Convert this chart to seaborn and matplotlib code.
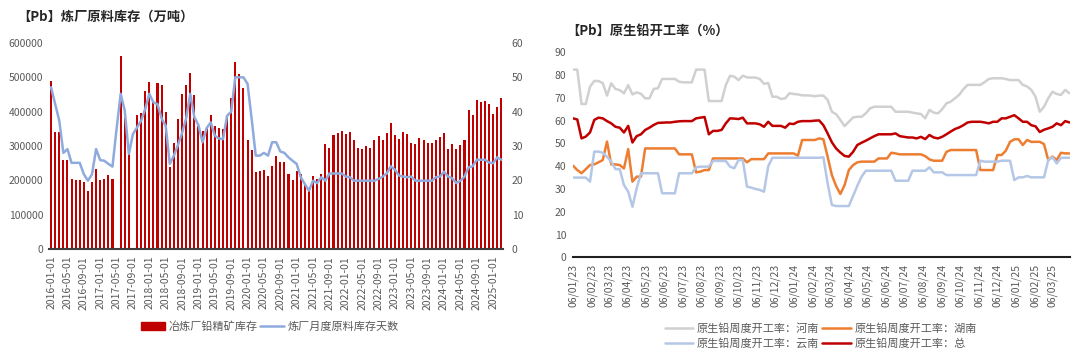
import numpy as np
import pandas as pd
import matplotlib
matplotlib.use("Agg")
import matplotlib.pyplot as plt
from matplotlib.patches import Patch
from matplotlib.lines import Line2D
import seaborn as sns

sns.set_theme(style="white")
plt.rcParams["font.family"] = ["Noto Sans CJK SC", "DejaVu Sans"]

# 左图：炼厂原料库存（月度）
months = pd.date_range("2016-01-01", "2025-03-01", freq="MS").strftime("%Y-%m-%d").tolist()
stock = [
    488000, 341000, 341000, 259000, 259000, 205000, 200000, 200000, 195000, 170000, 195000, 234000,
    202000, 204000, 216000, 204000, np.nan, 563000, 381000, 276000, np.nan, 390000, 395000, 459000,
    486000, 427000, 483000, 479000, 399000, 238000, 310000, 378000, 451000, 479000, 513000, 449000,
    357000, 345000, 356000, 391000, 358000, 352000, 350000, 388000, 439000, 544000, 510000, 468000,
    318000, 289000, 225000, 228000, 230000, 213000, 243000, 272000, 254000, 252000, 218000, 200000,
    226000, 218000, 186000, 168000, 212000, 204000, 218000, 305000, 294000, 331000, 338000, 344000,
    336000, 341000, 318000, 295000, 291000, 300000, 294000, 318000, 328000, 318000, 338000, 367000,
    332000, 320000, 341000, 335000, 310000, 306000, 324000, 318000, 308000, 310000, 318000, 327000,
    339000, 291000, 307000, 292000, 302000, 318000, 405000, 391000, 435000, 427000, 431000, 423000,
    394000, 413000, 439000,
]
days = [
    47.1, 42.2, 37.4, 28.0, 29.1, 25.1, 25.1, 25.1, 21.8, 19.9, 21.8, 29.1,
    25.9, 25.7, 24.8, 24.0, 35.0, 45.2, 40.3, 27.7, 33.5, 35.4, 37.4, 40.8,
    45.2, 42.7, 42.2, 38.0, 35.9, 24.8, 27.2, 30.3, 33.8, 38.1, 45.2, 38.4,
    36.1, 31.1, 35.2, 36.9, 33.0, 32.2, 32.0, 38.8, 40.0, 50.0, 50.0, 50.0,
    48.1, 37.9, 27.2, 27.2, 28.0, 27.2, 31.1, 31.1, 28.4, 28.0, 26.7, 25.7,
    24.8, 20.9, 18.9, 17.0, 19.9, 19.2, 20.9, 19.9, 22.0, 22.0, 22.0, 22.0,
    21.1, 20.9, 19.9, 19.9, 19.9, 19.9, 19.9, 19.9, 20.4, 21.1, 22.0, 24.1,
    23.1, 21.4, 21.1, 20.9, 21.1, 19.9, 19.9, 19.9, 19.9, 19.9, 20.9, 21.1,
    22.5, 21.1, 20.6, 19.2, 19.9, 21.1, 23.8, 24.1, 26.0, 26.0, 26.0, 25.2,
    25.0, 26.7, 26.0,
]

# 右图：原生铅周度开工率
weeks = pd.date_range("2023-01-06", periods=118, freq="7D")
henan = [
    82.4, 82.4, 67.3, 67.3, 74.9, 77.4, 77.4, 76.5, 71.0, 76.4, 73.9, 73.4, 72.0, 75.6, 71.5, 72.4,
    71.8, 69.8, 69.8, 73.9, 74.2, 78.3, 78.3, 78.3, 78.3, 77.1, 76.8, 76.8, 76.8, 82.4, 82.4, 82.4,
    68.6, 68.6, 68.6, 68.6, 75.6, 79.7, 79.3, 77.8, 79.7, 79.0, 78.9, 78.9, 78.3, 76.2, 76.5, 70.5,
    70.5, 69.5, 69.8, 72.0, 71.7, 71.5, 71.1, 71.1, 71.0, 70.7, 71.0,
    71.0, 69.1, 63.9, 62.8, 60.3, 57.6, 59.5, 61.4, 61.7, 61.7, 63.2, 65.4, 66.1, 66.1, 66.1, 66.1,
    66.1, 63.9, 63.9, 63.9, 63.9, 63.5, 63.2, 62.9, 61.0, 64.7, 63.5, 63.2, 65.0, 67.6, 68.3, 69.8,
    71.3, 73.8, 75.7, 75.7, 75.7, 75.7, 76.9, 78.3, 78.6, 78.6, 78.6, 78.3, 77.8, 77.8, 77.8, 75.7,
    75.0, 73.5, 70.5, 63.9, 66.1, 69.8, 72.7, 71.7, 71.3, 73.5, 72.0,
]
hunan = [
    40.2, 38.3, 36.9, 38.7, 40.5, 40.8, 41.7, 42.7, 50.8, 40.8, 40.8, 40.5, 39.0, 47.5, 33.2, 35.4,
    35.4, 47.8, 47.8, 47.8, 47.8, 47.8, 47.8, 47.8, 47.8, 45.2, 45.2, 45.2, 45.2, 37.3, 37.6, 38.3,
    38.3, 43.4, 43.4, 43.4, 43.4, 43.4, 43.4, 43.4, 43.4, 41.7, 43.1, 43.1, 43.1, 43.1, 45.6, 45.6,
    45.6, 45.6, 45.6, 45.6, 45.6, 44.6, 51.5, 51.5, 51.5, 51.5, 52.2,
    51.8, 44.2, 36.1, 31.3, 27.8, 31.7, 38.3, 40.5, 41.7, 42.0, 42.0, 42.0, 42.0, 43.4, 43.4, 43.4,
    45.9, 45.6, 45.2, 45.2, 45.2, 45.2, 45.2, 45.2, 44.4, 43.0, 42.4, 42.4, 42.4, 46.3, 47.1, 47.1,
    47.1, 47.1, 47.1, 47.1, 47.1, 38.3, 38.3, 38.3, 38.3, 44.9, 44.9, 46.8, 50.7, 51.8, 51.8, 49.3,
    51.5, 50.7, 50.7, 50.7, 49.7, 42.7, 44.2, 42.7, 45.9, 45.6, 45.6,
]
yunnan = [
    35.0, 35.0, 35.0, 35.0, 33.2, 46.4, 46.4, 45.9, 44.2, 42.0, 38.7, 38.7, 31.7, 28.8, 22.2, 30.3,
    36.9, 36.9, 36.9, 36.9, 36.9, 28.1, 28.1, 28.1, 28.1, 36.9, 36.9, 36.9, 36.9, 39.5, 39.8, 39.8,
    39.8, 42.3, 42.3, 42.3, 42.3, 39.8, 39.1, 42.7, 42.7, 31.0, 30.6, 30.0, 29.6, 28.8, 40.0, 43.7,
    43.7, 43.7, 43.7, 43.7, 43.7, 43.7, 43.7, 43.7, 43.7, 43.7, 43.7,
    43.9, 32.5, 23.0, 22.5, 22.5, 22.5, 22.5, 26.9, 31.4, 35.4, 38.0, 38.0, 38.0, 38.0, 38.0, 38.0,
    38.0, 33.6, 33.6, 33.6, 33.6, 38.0, 38.0, 38.0, 38.0, 39.5, 37.3, 37.3, 37.3, 36.1, 36.1, 36.1,
    36.1, 36.1, 36.1, 36.1, 36.1, 42.4, 42.0, 42.0, 42.0, 42.0, 42.4, 42.4, 42.4, 33.9, 35.1, 35.1,
    35.7, 35.1, 35.1, 35.1, 35.1, 42.7, 43.9, 41.2, 43.7, 43.7, 43.7,
]
total = [
    61.0, 60.5, 52.2, 53.0, 54.8, 60.3, 61.3, 61.0, 59.8, 58.8, 57.3, 56.9, 54.8, 57.7, 50.4, 53.2,
    54.0, 55.9, 56.9, 58.1, 59.0, 59.1, 59.2, 59.2, 59.5, 59.7, 59.8, 59.8, 59.8, 61.0, 61.3, 61.6,
    54.0, 55.5, 55.5, 55.9, 58.8, 61.0, 60.9, 60.7, 61.3, 58.8, 58.8, 58.8, 58.4, 57.3, 59.5, 57.7,
    57.7, 57.7, 56.9, 58.7, 58.5, 59.5, 59.8, 59.8, 59.8, 60.0, 60.1,
    58.0, 54.4, 50.5, 47.8, 46.0, 44.5, 44.2, 46.3, 49.3, 50.3, 51.2, 52.2, 53.2, 54.0, 54.0, 54.0,
    54.0, 54.4, 53.2, 52.9, 52.6, 52.6, 52.2, 52.9, 51.9, 53.7, 52.6, 52.2, 52.9, 54.0, 55.2, 56.3,
    57.0, 58.0, 59.2, 59.5, 59.5, 59.5, 59.2, 58.8, 59.5, 59.5, 61.0, 61.0, 61.7, 62.4, 61.0, 59.5,
    59.5, 58.0, 57.5, 55.0, 56.0, 56.6, 57.3, 58.8, 58.0, 59.8, 59.2,
]

grey_txt = "#595959"
c_red = "#C00000"
c_blue_l = "#8FAADC"
c_grey = "#D0D0D0"
c_orange = "#ED7D31"
c_blue = "#B4C7E7"

fig = plt.figure(figsize=(10.8, 3.63), dpi=100)

# ---- 左图 ----
ax1 = fig.add_axes([0.0454, 0.314, 0.4207, 0.5675])
df_left = pd.DataFrame({"月份": months, "库存": stock})
sns.barplot(data=df_left, x="月份", y="库存", order=months, color=c_red,
            saturation=1, width=0.5, linewidth=0, edgecolor=c_red, ax=ax1)
ax2 = ax1.twinx()
sns.lineplot(x=np.arange(len(days)), y=days, color=c_blue_l, lw=1.8, ax=ax2)
ax1.set_xlim(-0.5, len(months) - 0.5)
ax1.set_ylim(0, 600000)
ax2.set_ylim(0, 60)
ax1.set_xticks(range(0, len(months), 4))
ax1.set_xticklabels(months[::4], rotation=90)
ax1.set_yticks(range(0, 600001, 100000))
ax1.set_yticklabels([str(v) for v in range(0, 600001, 100000)])
ax2.set_yticks(range(0, 61, 10))
ax1.set_xlabel("")
ax1.set_ylabel("")
ax2.set_ylabel("")
ax1.tick_params(axis="both", length=0, labelsize=7.5, labelcolor=grey_txt)
ax1.tick_params(axis="x", pad=5)
ax1.tick_params(axis="y", pad=4)
ax2.tick_params(axis="y", length=0, labelsize=7.5, labelcolor=grey_txt, pad=6)
for s in ["top", "left", "right"]:
    ax1.spines[s].set_visible(False)
for s in ax2.spines.values():
    s.set_visible(False)
ax1.spines["bottom"].set_color("#404040")
ax1.spines["bottom"].set_linewidth(1.5)

fig.text(0.016, 0.953, "【Pb】炼厂原料库存（万吨）", fontsize=9.5, weight="bold",
         color="#262626", va="center")
fig.legend(handles=[Patch(color=c_red), Line2D([], [], color=c_blue_l, lw=1.8)],
           labels=["冶炼厂铅精矿库存", "炼厂月度原料库存天数"],
           loc="center", bbox_to_anchor=(0.25, 0.1), ncol=2, frameon=False,
           fontsize=8, labelcolor=grey_txt, handlelength=2.2, handletextpad=0.3,
           columnspacing=0.2)

# ---- 右图 ----
ax3 = fig.add_axes([0.5306, 0.2912, 0.4602, 0.5647])
series = [("原生铅周度开工率：河南", henan, c_grey),
          ("原生铅周度开工率：湖南", hunan, c_orange),
          ("原生铅周度开工率：云南", yunnan, c_blue),
          ("原生铅周度开工率：总", total, c_red)]
for name, vals, col in series:
    sns.lineplot(x=weeks, y=vals, color=col, lw=1.8, ax=ax3)
ax3.set_xlim(pd.Timestamp("2023-01-06"), pd.Timestamp("2025-04-05"))
ax3.set_ylim(0, 90)
ticks = pd.date_range("2023-01-01", "2025-03-01", freq="MS") + pd.Timedelta(days=5)
ax3.set_xticks(ticks)
ax3.set_xticklabels([t.strftime("%d/%m/%y") for t in ticks], rotation=90)
ax3.set_yticks(range(0, 91, 10))
ax3.set_xlabel("")
ax3.set_ylabel("")
ax3.tick_params(axis="both", length=0, labelsize=7.5, labelcolor=grey_txt)
ax3.tick_params(axis="x", pad=5)
ax3.tick_params(axis="y", pad=5)
for s in ["top", "left", "right"]:
    ax3.spines[s].set_visible(False)
ax3.spines["bottom"].set_color("#202020")
ax3.spines["bottom"].set_linewidth(1.5)

fig.text(0.524, 0.915, "【Pb】原生铅开工率（%）", fontsize=9.5, weight="bold",
         color="#262626", va="center")
order = [0, 2, 1, 3]
fig.legend(handles=[Line2D([], [], color=series[i][2], lw=1.8) for i in order],
           labels=[series[i][0] for i in order],
           loc="center", bbox_to_anchor=(0.76, 0.074), ncol=2, frameon=False,
           fontsize=8, labelcolor=grey_txt, handlelength=2.6, handletextpad=0.3,
           columnspacing=0.3, labelspacing=0.35)

fig.savefig("out.png", dpi=100)
